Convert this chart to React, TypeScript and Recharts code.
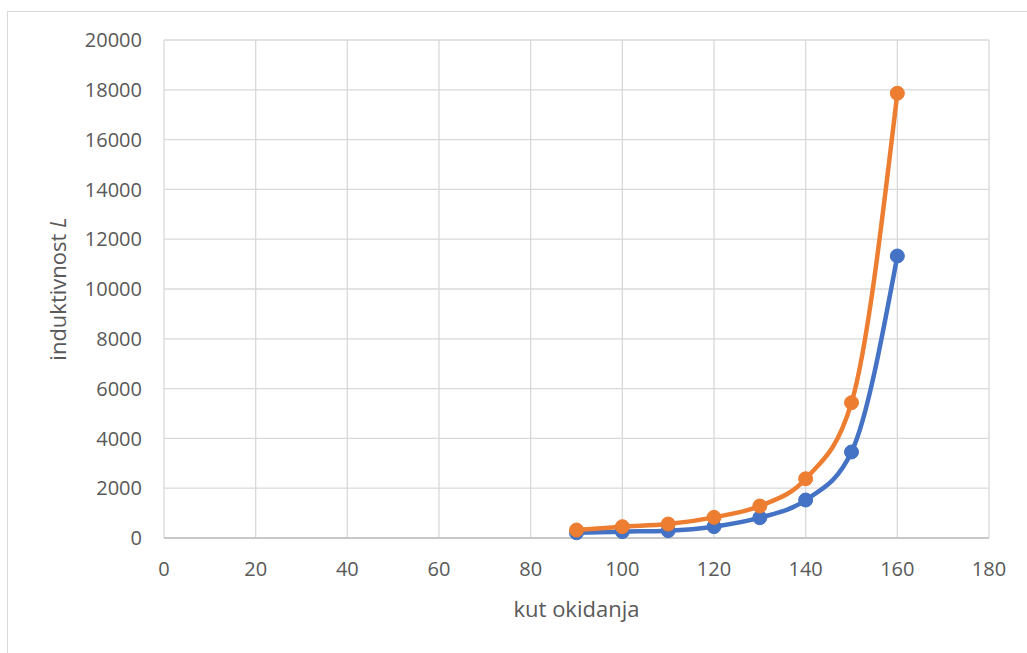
import { CartesianGrid, Label, Line, LineChart, XAxis, YAxis } from "recharts";

const angles = [90, 100, 110, 120, 130, 140, 150, 160];
const blueValues = [210, 255, 295, 455, 815, 1525, 3455, 11325];
const orangeValues = [320, 455, 560, 830, 1285, 2380, 5435, 17860];
const xTicks = [0, 20, 40, 60, 80, 100, 120, 140, 160, 180];
const yTicks = [0, 2000, 4000, 6000, 8000, 10000, 12000, 14000, 16000, 18000, 20000];

const data = angles.map((a, i) => ({ angle: a, blue: blueValues[i], orange: orangeValues[i] }));

const BLUE = "#4472C4";
const ORANGE = "#ED7D31";
const TEXT = "#595959";
const FONT = "'Open Sans', sans-serif";

function XTitle(props: any) {
  const vb = props.viewBox;
  return (
    <text x={vb.x + vb.width / 2} y={vb.y + 79} textAnchor="middle" fill={TEXT} fontSize={22} fontFamily={FONT}>
      kut okidanja
    </text>
  );
}

function YTitle(props: any) {
  const vb = props.viewBox;
  const cx = vb.x - 27;
  const cy = vb.y + vb.height / 2;
  return (
    <text
      transform={`translate(${cx},${cy}) rotate(-90)`}
      x={0}
      y={0}
      textAnchor="middle"
      dominantBaseline="central"
      fill={TEXT}
      fontSize={22}
      fontFamily={FONT}
    >
      induktivnost <tspan fontStyle="italic">L</tspan>
    </text>
  );
}

export default function App() {
  return (
    <div style={{ position: "absolute", left: 0, top: 0, width: 1027, height: 653, background: "#fff", overflow: "hidden" }}>
      <div
        style={{
          position: "absolute",
          left: 7,
          top: 11,
          width: 1040,
          height: 670,
          border: "1px solid #d9d9d9",
        }}
      />
      <LineChart
        width={1027}
        height={653}
        data={data}
        margin={{ top: 40, right: 38, bottom: 55, left: 84 }}
        style={{ position: "absolute", left: 0, top: 0 }}
      >
        <CartesianGrid stroke="#d9d9d9" strokeWidth={1.3} />
        <XAxis
          type="number"
          dataKey="angle"
          domain={[0, 180]}
          ticks={xTicks}
          height={60}
          tickSize={0}
          tickMargin={24}
          tickLine={false}
          axisLine={{ stroke: "#bfbfbf", strokeWidth: 1.5 }}
          tick={{ fill: TEXT, fontSize: 20, fontFamily: FONT }}
          interval={0}
        >
          <Label content={XTitle} />
        </XAxis>
        <YAxis
          type="number"
          domain={[0, 20000]}
          ticks={yTicks}
          width={80}
          tickSize={0}
          tickMargin={22}
          tickLine={false}
          axisLine={false}
          tick={{ fill: TEXT, fontSize: 20, fontFamily: FONT }}
          interval={0}
        >
          <Label content={YTitle} />
        </YAxis>
        <Line
          type="monotone"
          dataKey="blue"
          stroke={BLUE}
          strokeWidth={4.5}
          dot={{ r: 7, fill: BLUE, stroke: BLUE, strokeWidth: 1 }}
          activeDot={false}
          isAnimationActive={false}
        />
        <Line
          type="monotone"
          dataKey="orange"
          stroke={ORANGE}
          strokeWidth={4.5}
          dot={{ r: 7, fill: ORANGE, stroke: ORANGE, strokeWidth: 1 }}
          activeDot={false}
          isAnimationActive={false}
        />
      </LineChart>
    </div>
  );
}
